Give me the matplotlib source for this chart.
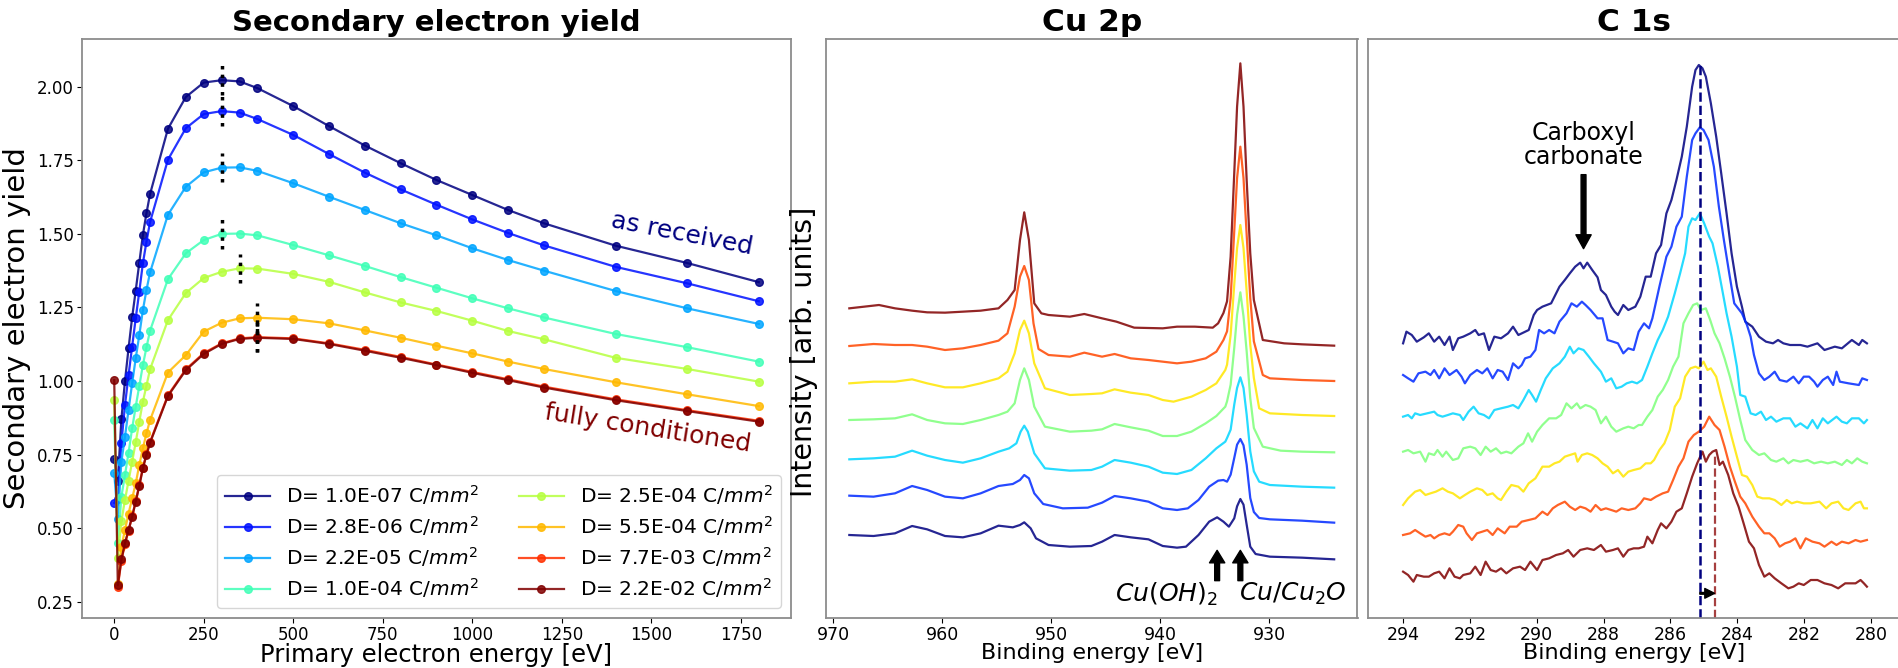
import numpy as np
import matplotlib.pyplot as plt

# ---- secondary electron yield (left) ----
energy = [0, 10, 20, 30, 40, 50, 60, 70, 80, 90, 100, 150, 200, 250, 300, 350, 400,
          500, 600, 700, 800, 900, 1000, 1100, 1200, 1400, 1600, 1800]
nan = np.nan
sey_d1 = [0.734, 0.66, 0.87, 1.000, 1.111, 1.216, 1.307, 1.402, 1.496, 1.570, 1.635, 1.857, 1.965, 2.014,
          2.022, 2.018, 1.995, 1.934, 1.866, 1.800, 1.740, 1.683, 1.632, 1.581, 1.536, 1.460, 1.401, 1.336]
sey_d2 = [0.586, 0.60, 0.79, 0.918, 1.020, 1.117, 1.213, 1.304, 1.400, 1.473, 1.540, 1.752, 1.859, 1.907,
          1.917, 1.912, 1.890, 1.836, 1.771, 1.708, 1.651, 1.599, 1.549, 1.503, 1.461, 1.388, 1.332, 1.271]
sey_d3 = [0.688, 0.53, 0.726, 0.811, 0.902, 0.992, 1.077, 1.156, 1.241, 1.309, 1.369, 1.565, 1.660, 1.709,
          1.725, 1.726, 1.714, 1.672, 1.626, 1.581, 1.536, 1.495, 1.451, 1.411, 1.375, 1.306, 1.247, 1.194]
sey_d4 = [0.866, 0.45, 0.607, 0.681, 0.756, 0.839, 0.913, 0.983, 1.054, 1.114, 1.171, 1.346, 1.434, 1.479,
          1.500, 1.501, 1.495, 1.462, 1.427, 1.391, 1.353, 1.317, 1.281, 1.247, 1.216, 1.160, 1.115, 1.066]
sey_d5 = [0.934, 0.40, 0.525, 0.596, 0.661, 0.726, 0.792, 0.862, 0.930, 0.984, 1.040, 1.207, 1.299, 1.350,
          1.371, 1.383, 1.382, 1.364, 1.337, 1.301, 1.267, 1.238, 1.205, 1.170, 1.142, 1.079, 1.041, 0.998]
sey_d6 = [nan, 0.31, 0.437, 0.494, 0.550, 0.601, 0.652, 0.715, 0.771, 0.822, 0.867, 1.029, 1.088, 1.168,
          1.198, 1.213, 1.215, 1.210, 1.196, 1.172, 1.147, 1.120, 1.094, 1.066, 1.041, 0.996, 0.955, 0.915]
sey_d7 = [nan, 0.300, 0.390, 0.447, 0.492, 0.540, 0.592, 0.648, 0.706, 0.752, 0.793, 0.952, 1.040, 1.095,
          1.128, 1.145, 1.149, 1.145, 1.128, 1.106, 1.082, 1.056, 1.031, 1.006, 0.981, 0.938, 0.901, 0.865]
sey_d8 = [1.003, 0.307, 0.394, 0.449, 0.494, 0.539, 0.590, 0.643, 0.703, 0.749, 0.790, 0.949, 1.037, 1.092,
          1.126, 1.143, 1.147, 1.143, 1.126, 1.103, 1.079, 1.054, 1.028, 1.003, 0.978, 0.935, 0.898, 0.862]
doses = ['1.0E-07', '2.8E-06', '2.2E-05', '1.0E-04', '2.5E-04', '5.5E-04', '7.7E-03', '2.2E-02']
peak_energy = [300, 300, 300, 300, 350, 400, 400, 400]

# ---- Cu 2p spectra (binding energy, intensity) ----
cu_1 = [(968.53, 249), (966.31, 246), (964.34, 254), (962.77, 276), (961.39, 266), (959.75, 246), (958.11, 242),
        (956.48, 254), (954.84, 277), (953.53, 272), (952.87, 279), (952.48, 287), (951.89, 269), (951.40, 239),
        (950.25, 219), (948.29, 214), (946.32, 216), (945.34, 229), (944.19, 249), (942.71, 242), (941.08, 236),
        (939.77, 216), (938.46, 211), (937.64, 214), (936.49, 249), (935.51, 289), (934.78, 302), (934.20, 289),
        (933.70, 274), (933.21, 299), (932.95, 335), (932.65, 357), (932.36, 340), (932.07, 280), (931.74, 214),
        (931.25, 192), (929.94, 184), (926.99, 181), (924.04, 176)]
cu_2 = [(968.53, 367), (966.31, 364), (964.34, 374), (962.77, 396), (961.39, 384), (959.75, 364), (958.11, 359),
        (956.48, 374), (954.84, 396), (953.53, 402), (952.87, 414), (952.48, 429), (952.05, 419), (951.56, 374),
        (950.74, 342), (948.94, 329), (946.65, 331), (945.34, 346), (944.19, 366), (942.71, 359), (941.08, 349),
        (939.77, 329), (938.46, 324), (937.47, 329), (936.49, 354), (935.51, 394), (934.69, 412), (934.20, 414),
        (933.87, 409), (933.54, 430), (933.21, 480), (932.95, 520), (932.65, 537), (932.36, 518), (932.07, 460),
        (931.74, 360), (931.41, 318), (930.92, 300), (929.94, 296), (926.99, 292), (924.04, 286)]
cu_3 = [(968.53, 476), (966.31, 479), (964.34, 484), (962.77, 502), (961.39, 487), (959.75, 474), (958.11, 466),
        (956.48, 479), (954.84, 499), (953.86, 509), (953.20, 524), (952.81, 559), (952.48, 577), (952.15, 559),
        (951.56, 494), (950.58, 449), (948.29, 442), (946.32, 444), (945.34, 454), (944.19, 474), (942.71, 466),
        (941.08, 454), (939.77, 436), (938.46, 432), (937.14, 444), (935.83, 479), (934.85, 509), (934.03, 529),
        (933.87, 540), (933.54, 565), (933.21, 640), (932.95, 690), (932.65, 722), (932.36, 690), (932.07, 610),
        (931.74, 500), (931.41, 440), (930.92, 409), (929.94, 399), (926.99, 394), (924.04, 391)]
cu_4 = [(968.53, 594), (966.31, 596), (964.34, 599), (962.77, 611), (961.39, 594), (959.75, 584), (958.11, 582),
        (956.48, 594), (954.84, 609), (954.02, 619), (953.36, 644), (952.87, 714), (952.48, 749), (952.05, 714),
        (951.56, 634), (950.58, 574), (948.29, 559), (946.32, 562), (945.34, 566), (944.19, 582), (942.71, 572),
        (941.08, 562), (939.77, 546), (938.46, 546), (937.14, 559), (935.83, 584), (934.85, 606), (934.03, 634),
        (933.87, 650), (933.54, 700), (933.21, 810), (932.95, 910), (932.65, 977), (932.36, 905), (932.07, 800),
        (931.74, 660), (931.41, 570), (930.59, 514), (928.95, 502), (926.99, 499), (924.04, 497)]
cu_5 = [(968.53, 704), (966.31, 709), (964.34, 709), (962.77, 716), (961.39, 704), (959.75, 692), (958.11, 692),
        (956.48, 704), (954.84, 719), (954.02, 739), (953.36, 794), (952.87, 864), (952.48, 892), (952.05, 854),
        (951.56, 764), (950.58, 689), (948.29, 669), (946.32, 672), (945.34, 674), (944.19, 686), (942.71, 676),
        (941.08, 669), (939.77, 654), (938.78, 649), (937.14, 664), (935.83, 684), (934.85, 704), (934.03, 744),
        (933.87, 760), (933.54, 850), (933.21, 1000), (932.95, 1110), (932.65, 1179), (932.36, 1110),
        (932.07, 980), (931.74, 820), (931.41, 720), (930.92, 629), (929.94, 614), (926.99, 609), (924.04, 606)]
cu_6 = [(968.53, 816), (966.31, 822), (964.34, 819), (962.77, 819), (961.39, 814), (959.75, 804), (958.11, 809),
        (956.48, 819), (954.84, 832), (954.02, 854), (953.36, 934), (952.87, 1024), (952.48, 1056), (952.05, 1014),
        (951.63, 884), (951.17, 807), (950.25, 789), (948.29, 784), (946.97, 796), (945.34, 784), (944.19, 792),
        (942.71, 779), (941.08, 774), (939.77, 769), (938.46, 764), (937.14, 769), (935.83, 779), (934.85, 799),
        (934.20, 834), (933.87, 860), (933.54, 960), (933.21, 1160), (932.95, 1320), (932.65, 1414),
        (932.36, 1320), (932.07, 1150), (931.74, 960), (931.41, 830), (930.59, 729), (929.94, 719), (926.99, 714),
        (924.04, 711)]
cu_7 = [(968.53, 929), (965.81, 939), (964.34, 929), (962.77, 922), (961.39, 917), (959.75, 916), (958.11, 919),
        (956.48, 922), (954.84, 929), (954.02, 954), (953.36, 984), (952.87, 1134), (952.48, 1217), (952.05, 1134),
        (951.56, 944), (950.91, 914), (950.25, 909), (948.29, 904), (946.97, 912), (945.34, 899), (944.02, 889),
        (942.39, 871), (939.77, 869), (938.46, 874), (936.82, 874), (935.18, 871), (934.69, 884), (934.20, 915),
        (933.87, 950), (933.54, 1084), (933.21, 1334), (932.95, 1534), (932.65, 1664), (932.36, 1534),
        (932.07, 1314), (931.74, 1094), (931.41, 954), (930.59, 834), (928.63, 824), (926.99, 821), (924.04, 817)]

# ---- C 1s spectra ----
c_1 = [(294.00, 824), (293.90, 859), (293.74, 849), (293.59, 829), (293.38, 842), (293.23, 854), (293.07, 829),
       (292.92, 844), (292.76, 819), (292.61, 844), (292.51, 804), (292.35, 839), (292.20, 844), (291.99, 854),
       (291.84, 864), (291.74, 849), (291.58, 854), (291.43, 804), (291.27, 844), (291.07, 839), (290.86, 854),
       (290.71, 874), (290.55, 849), (290.24, 864), (290.09, 909), (289.99, 924), (289.83, 934), (289.57, 944),
       (289.32, 994), (289.16, 1014), (289.01, 1034), (288.85, 1054), (288.70, 1066), (288.60, 1049),
       (288.49, 1066), (288.34, 1044), (288.18, 1022), (288.08, 984), (287.93, 969), (287.77, 934), (287.67, 919),
       (287.57, 909), (287.41, 939), (287.26, 924), (287.05, 934), (286.90, 964), (286.74, 1024), (286.59, 1024),
       (286.43, 1094), (286.28, 1119), (286.12, 1214), (285.97, 1254), (285.82, 1314), (285.66, 1384),
       (285.51, 1474), (285.35, 1594), (285.25, 1644), (285.15, 1659), (285.04, 1649), (284.94, 1624),
       (284.79, 1544), (284.63, 1444), (284.48, 1334), (284.32, 1214), (284.17, 1094), (284.01, 994),
       (283.86, 934), (283.76, 889), (283.55, 874), (283.35, 844), (283.14, 829), (282.93, 824), (282.78, 834),
       (282.62, 824), (282.42, 819), (282.11, 819), (281.90, 814), (281.60, 824), (281.39, 804), (281.08, 814),
       (280.87, 809), (280.57, 834), (280.36, 819), (280.26, 834), (280.12, 824)]
c_2 = [(294.00, 729), (293.85, 719), (293.69, 709), (293.54, 734), (293.33, 739), (293.18, 729), (293.07, 744),
       (292.92, 719), (292.76, 749), (292.61, 729), (292.40, 744), (292.25, 724), (292.15, 704), (291.99, 729),
       (291.79, 744), (291.63, 734), (291.48, 749), (291.32, 719), (291.17, 744), (291.02, 739), (290.86, 714),
       (290.71, 764), (290.55, 749), (290.45, 759), (290.35, 779), (290.19, 784), (290.04, 804), (289.93, 864),
       (289.78, 854), (289.63, 864), (289.47, 854), (289.32, 889), (289.11, 914), (288.96, 944), (288.80, 934),
       (288.65, 949), (288.54, 939), (288.39, 924), (288.18, 899), (288.03, 899), (287.88, 834), (287.72, 829),
       (287.57, 824), (287.41, 794), (287.26, 809), (287.10, 804), (286.95, 859), (286.79, 884), (286.64, 869),
       (286.54, 899), (286.33, 994), (286.12, 1084), (285.97, 1114), (285.82, 1174), (285.66, 1204),
       (285.51, 1324), (285.35, 1434), (285.25, 1454), (285.12, 1472), (285.01, 1464), (284.86, 1434),
       (284.70, 1354), (284.55, 1234), (284.40, 1134), (284.24, 1034), (284.09, 944), (283.86, 914),
       (283.71, 879), (283.60, 844), (283.50, 789), (283.35, 734), (283.19, 714), (283.04, 724), (282.88, 739),
       (282.73, 714), (282.52, 709), (282.32, 724), (282.16, 704), (282.01, 724), (281.85, 724), (281.70, 709),
       (281.60, 694), (281.44, 714), (281.29, 724), (281.13, 699), (281.03, 739), (280.93, 709), (280.67, 704),
       (280.36, 699), (280.26, 719), (280.12, 714)]
c_3 = [(294.00, 604), (293.85, 609), (293.74, 599), (293.64, 614), (293.49, 609), (293.28, 614), (293.07, 619),
       (292.97, 609), (292.82, 604), (292.66, 609), (292.51, 614), (292.30, 609), (292.20, 594), (292.04, 619),
       (291.89, 634), (291.74, 614), (291.58, 609), (291.43, 599), (291.27, 624), (291.07, 629), (290.86, 634),
       (290.71, 639), (290.55, 629), (290.40, 654), (290.24, 684), (290.14, 669), (290.02, 649), (289.88, 684),
       (289.73, 719), (289.52, 749), (289.32, 764), (289.16, 784), (289.01, 814), (288.90, 794), (288.75, 809),
       (288.60, 804), (288.44, 784), (288.29, 764), (288.08, 739), (287.93, 709), (287.77, 719), (287.62, 689),
       (287.46, 694), (287.31, 704), (287.15, 709), (287.00, 704), (286.85, 714), (286.69, 754), (286.54, 794),
       (286.38, 834), (286.23, 864), (286.07, 904), (285.97, 939), (285.87, 974), (285.71, 1034), (285.56, 1094),
       (285.46, 1174), (285.35, 1199), (285.25, 1194), (285.12, 1214), (284.99, 1184), (284.84, 1144),
       (284.74, 1124), (284.58, 1054), (284.43, 974), (284.32, 914), (284.17, 844), (284.01, 754), (283.91, 669),
       (283.76, 664), (283.60, 614), (283.45, 609), (283.29, 619), (283.14, 594), (282.99, 604), (282.83, 589),
       (282.62, 599), (282.42, 599), (282.26, 574), (282.11, 584), (281.90, 569), (281.75, 594), (281.60, 569),
       (281.44, 599), (281.29, 584), (281.03, 604), (280.87, 589), (280.72, 584), (280.57, 599), (280.36, 599),
       (280.21, 584), (280.12, 594)]
c_4 = [(294.00, 499), (293.85, 504), (293.69, 494), (293.49, 499), (293.33, 469), (293.23, 494), (293.07, 489),
       (292.97, 504), (292.82, 484), (292.71, 499), (292.51, 474), (292.35, 479), (292.20, 509), (291.99, 514),
       (291.84, 509), (291.68, 489), (291.53, 514), (291.38, 499), (291.22, 509), (291.07, 494), (290.91, 499),
       (290.76, 494), (290.55, 514), (290.40, 524), (290.26, 554), (290.14, 529), (289.99, 559), (289.83, 579),
       (289.63, 599), (289.42, 599), (289.27, 609), (289.11, 644), (288.96, 629), (288.80, 644), (288.70, 629),
       (288.54, 639), (288.39, 634), (288.24, 624), (288.08, 584), (287.93, 604), (287.77, 574), (287.62, 559),
       (287.41, 569), (287.26, 574), (287.10, 569), (286.95, 579), (286.85, 579), (286.69, 604), (286.54, 624),
       (286.38, 664), (286.23, 684), (286.07, 714), (285.92, 754), (285.76, 784), (285.61, 884), (285.46, 914),
       (285.32, 939), (285.20, 944), (285.09, 924), (284.94, 929), (284.81, 894), (284.68, 854), (284.53, 824),
       (284.38, 779), (284.22, 724), (284.07, 664), (283.91, 594), (283.76, 534), (283.55, 504), (283.35, 489),
       (283.19, 494), (282.99, 474), (282.83, 469), (282.62, 479), (282.47, 464), (282.32, 474), (282.11, 469),
       (281.90, 474), (281.70, 464), (281.49, 469), (281.29, 464), (281.08, 469), (280.87, 459), (280.72, 474),
       (280.57, 464), (280.41, 479), (280.26, 469), (280.12, 464)]
c_5 = [(294.00, 339), (293.85, 359), (293.64, 379), (293.49, 384), (293.33, 369), (293.18, 374), (293.02, 379),
       (292.82, 389), (292.66, 379), (292.51, 374), (292.30, 359), (292.15, 369), (291.99, 379), (291.79, 389),
       (291.63, 384), (291.48, 369), (291.32, 374), (291.17, 359), (291.07, 354), (290.91, 379), (290.76, 399),
       (290.55, 394), (290.40, 379), (290.24, 404), (290.04, 419), (289.83, 454), (289.63, 454), (289.47, 464),
       (289.32, 469), (289.16, 484), (289.01, 489), (288.85, 494), (288.78, 469), (288.65, 489), (288.49, 494),
       (288.34, 489), (288.18, 479), (288.03, 464), (287.88, 454), (287.72, 434), (287.57, 444), (287.41, 424),
       (287.26, 439), (287.10, 444), (286.90, 449), (286.74, 464), (286.59, 464), (286.49, 474), (286.33, 504),
       (286.18, 524), (286.02, 564), (285.87, 634), (285.71, 659), (285.56, 724), (285.40, 749), (285.25, 754),
       (285.15, 749), (285.01, 769), (284.89, 744), (284.79, 749), (284.63, 724), (284.48, 664), (284.32, 604),
       (284.17, 544), (284.01, 484), (283.86, 429), (283.71, 424), (283.55, 399), (283.40, 364), (283.24, 359),
       (283.04, 359), (282.88, 354), (282.68, 339), (282.52, 354), (282.37, 344), (282.21, 349), (282.01, 344),
       (281.80, 344), (281.54, 349), (281.34, 329), (281.18, 344), (280.98, 349), (280.82, 329), (280.67, 324),
       (280.46, 344), (280.31, 349), (280.21, 329), (280.12, 329)]
c_6 = [(294.00, 249), (293.79, 254), (293.64, 264), (293.49, 254), (293.33, 244), (293.18, 249), (293.07, 239),
       (292.92, 249), (292.76, 254), (292.61, 249), (292.51, 259), (292.35, 279), (292.20, 274), (292.10, 254),
       (291.94, 234), (291.79, 254), (291.63, 259), (291.48, 264), (291.32, 249), (291.17, 269), (290.96, 254),
       (290.81, 274), (290.60, 274), (290.45, 289), (290.24, 294), (290.04, 299), (289.83, 319), (289.68, 309),
       (289.52, 329), (289.37, 339), (289.16, 349), (289.01, 334), (288.85, 324), (288.70, 334), (288.54, 329),
       (288.39, 319), (288.24, 339), (288.08, 324), (287.93, 329), (287.77, 324), (287.62, 319), (287.46, 329),
       (287.26, 324), (287.05, 329), (286.90, 344), (286.79, 359), (286.59, 354), (286.43, 364), (286.23, 374),
       (286.07, 379), (285.92, 414), (285.76, 454), (285.61, 479), (285.46, 529), (285.30, 549), (285.15, 559),
       (284.99, 574), (284.84, 604), (284.68, 579), (284.53, 564), (284.38, 514), (284.22, 454), (284.07, 409),
       (283.91, 364), (283.76, 344), (283.55, 304), (283.35, 274), (283.19, 254), (283.04, 254), (282.88, 239),
       (282.73, 214), (282.57, 224), (282.42, 229), (282.26, 239), (282.11, 209), (281.95, 239), (281.75, 229),
       (281.54, 224), (281.39, 214), (281.18, 229), (281.03, 219), (280.87, 229), (280.67, 224), (280.46, 234),
       (280.31, 229), (280.12, 234)]
c_7 = [(294.00, 139), (293.85, 129), (293.69, 109), (293.59, 129), (293.38, 124), (293.23, 124), (293.07, 134),
       (292.92, 139), (292.76, 119), (292.61, 149), (292.46, 124), (292.30, 119), (292.20, 129), (291.99, 134),
       (291.84, 154), (291.68, 129), (291.53, 169), (291.38, 144), (291.22, 139), (291.07, 149), (290.91, 134),
       (290.71, 149), (290.50, 154), (290.35, 144), (290.19, 169), (289.99, 144), (289.83, 174), (289.63, 179),
       (289.42, 189), (289.22, 194), (289.06, 204), (288.90, 184), (288.70, 204), (288.49, 209), (288.29, 204),
       (288.08, 219), (287.93, 199), (287.72, 204), (287.57, 209), (287.41, 184), (287.26, 204), (287.10, 209),
       (286.95, 209), (286.79, 214), (286.69, 244), (286.54, 224), (286.38, 264), (286.28, 284), (286.12, 269),
       (285.97, 289), (285.82, 319), (285.66, 329), (285.51, 374), (285.35, 424), (285.20, 464), (285.04, 499),
       (284.94, 469), (284.84, 489), (284.74, 499), (284.63, 504), (284.53, 459), (284.43, 469), (284.27, 429),
       (284.12, 374), (283.96, 334), (283.81, 284), (283.65, 229), (283.50, 209), (283.35, 159), (283.19, 124),
       (283.04, 134), (282.88, 119), (282.68, 104), (282.47, 89), (282.32, 94), (282.16, 104), (282.01, 99),
       (281.80, 114), (281.60, 114), (281.39, 104), (281.18, 99), (280.98, 89), (280.77, 104), (280.46, 104),
       (280.31, 114), (280.21, 104), (280.12, 94)]

c1s_shift_from = 285.12
c1s_shift_to = 284.66

W, H = 1899, 668
fig = plt.figure(figsize=(W / 100, H / 100), dpi=100)
ax1 = fig.add_axes([82 / W, 50 / H, 709 / W, 579 / H])
ax2 = fig.add_axes([826 / W, 50 / H, 531.5 / W, 579 / H])
ax3 = fig.add_axes([1368 / W, 50 / H, 533 / W, 579 / H])

# left panel
sey = [sey_d1, sey_d2, sey_d3, sey_d4, sey_d5, sey_d6, sey_d7, sey_d8]
cols8 = plt.cm.jet(np.linspace(0, 1, 8))
for s, d, c in zip(sey, doses, cols8):
    ax1.plot(energy, s, '-o', color=c, ms=5.5, lw=1.6, alpha=0.85,
             label='D= ' + d + ' C/$mm^2$')
for s, ep in zip(sey, peak_energy):
    ym = s[energy.index(ep)]
    ax1.plot([ep, ep], [ym - 0.05, ym + 0.05], color='k', lw=2.5, ls=(0, (1, 1.5)))
ax1.text(1584, 1.50, 'as received', color=cols8[0], fontsize=18, rotation=-11,
         ha='center', va='center', rotation_mode='anchor')
ax1.text(1490, 0.84, 'fully conditioned', color=cols8[-1], fontsize=18, rotation=-9,
         ha='center', va='center', rotation_mode='anchor')
ax1.legend(loc='lower right', ncol=2, fontsize=14.5, labelspacing=0.35, handlelength=2.2)
ax1.set_xlim(-90, 1890)
ax1.set_ylim(0.195, 2.162)
ax1.set_xticks(np.arange(0, 1751, 250))
ax1.set_yticks(np.arange(0.25, 2.01, 0.25))
ax1.tick_params(labelsize=12, pad=2.5)
ax1.set_title('Secondary electron yield', fontsize=21, fontweight='bold')
ax1.set_xlabel('Primary electron energy [eV]', fontsize=17.5, labelpad=-1)
ax1.set_ylabel('Secondary electron yield', fontsize=21)

# middle panel
cols7 = plt.cm.jet(np.linspace(0, 1, 7))
for spec, c in zip([cu_1, cu_2, cu_3, cu_4, cu_5, cu_6, cu_7], cols7):
    be, inten = zip(*spec)
    ax2.plot(be, inten, color=c, lw=1.6, alpha=0.85)
for xa in (934.78, 932.65):
    ax2.annotate('', xy=(xa, 203), xytext=(xa, 112),
                 arrowprops=dict(facecolor='k', edgecolor='k', width=3.5, headwidth=11,
                                 headlength=9, shrink=0))
ax2.text(934.75, 72, '$Cu(OH)_2$', ha='right', va='center', fontsize=18)
ax2.text(932.76, 72, '$Cu/Cu_2O$', ha='left', va='center', fontsize=18)
ax2.set_xlim(970.67, 921.9)
ax2.set_ylim(0, 1737)
ax2.set_yticks([])
ax2.set_xticks([970, 960, 950, 940, 930])
ax2.tick_params(labelsize=12.5, pad=2.5)
ax2.set_title('Cu 2p', fontsize=22.5, fontweight='bold')
ax2.set_xlabel('Binding energy [eV]', fontsize=16, labelpad=-1)
ax2.set_ylabel('Intensity [arb. units]', fontsize=20.5)
ax2.yaxis.set_label_coords(-0.015, 0.46)

# right panel
for spec, c in zip([c_1, c_2, c_3, c_4, c_5, c_6, c_7], cols7):
    be, inten = zip(*spec)
    ax3.plot(be, inten, color=c, lw=1.6, alpha=0.85)
ax3.plot([c1s_shift_from, c1s_shift_from], [0, 1659], '--', color=cols7[0], lw=1.8)
ax3.plot([c1s_shift_to, c1s_shift_to], [0, 490], '--', color=(0.65, 0.25, 0.25), lw=1.6)
ax3.annotate('', xy=(c1s_shift_to + 0.02, 74), xytext=(c1s_shift_from, 74),
             arrowprops=dict(facecolor='k', edgecolor='k', width=1.2, headwidth=7,
                             headlength=7, shrink=0))
ax3.text(288.6, 1420, 'Carboxyl\ncarbonate', ha='center', va='center', fontsize=17,
         linespacing=1.0)
ax3.annotate('', xy=(288.6, 1108), xytext=(288.6, 1330),
             arrowprops=dict(facecolor='k', edgecolor='k', width=3.5, headwidth=11,
                             headlength=10, shrink=0))
ax3.set_xlim(295.05, 279.1)
ax3.set_ylim(0, 1737)
ax3.set_yticks([])
ax3.set_xticks(np.arange(294, 279, -2))
ax3.tick_params(labelsize=12.5, pad=2.5)
ax3.set_title('C 1s', fontsize=22.5, fontweight='bold')
ax3.set_xlabel('Binding energy [eV]', fontsize=16, labelpad=-1)

for ax in (ax1, ax2, ax3):
    for sp in ax.spines.values():
        sp.set_color('0.55')
        sp.set_linewidth(1.3)

fig.savefig('out.png', dpi=100)
